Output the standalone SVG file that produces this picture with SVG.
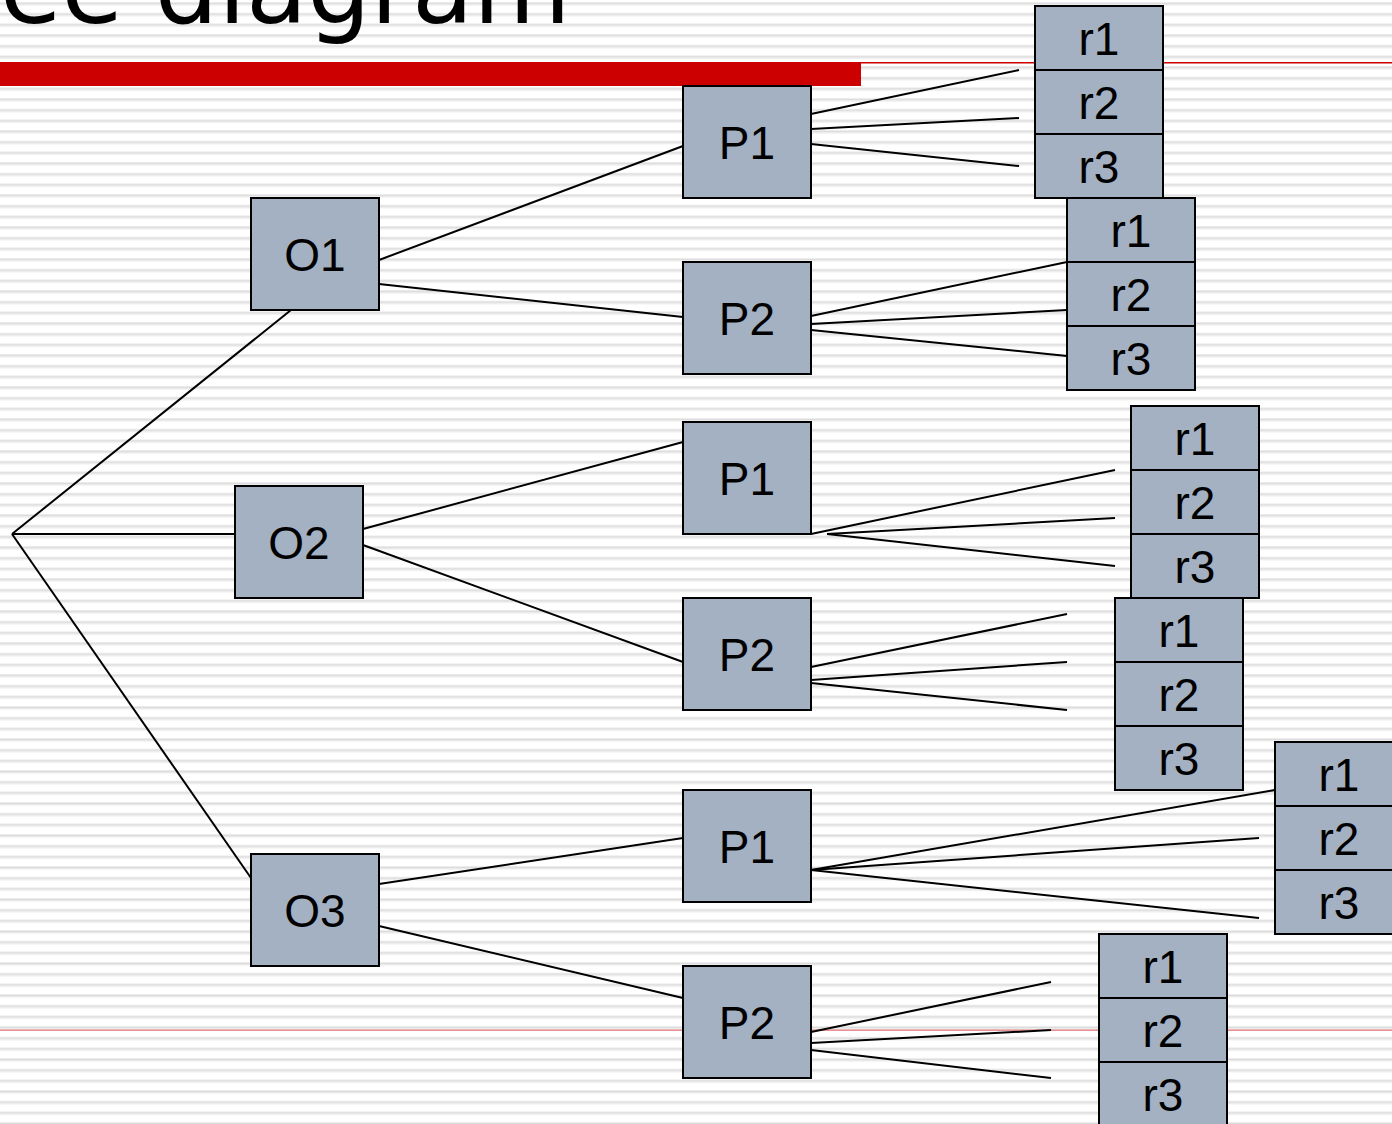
<svg xmlns="http://www.w3.org/2000/svg" width="1392" height="1124" viewBox="0 0 1392 1124">
<defs>
<pattern id="stripes" patternUnits="userSpaceOnUse" x="0" y="2" width="20" height="10.667">
<rect x="0" y="0" width="20" height="10.667" fill="#ffffff"/>
<rect x="0" y="0" width="20" height="1" fill="#ececec"/>
<rect x="0" y="1" width="20" height="1.5" fill="#dcdcdc"/>
<rect x="0" y="2.5" width="20" height="1" fill="#ececec"/>
</pattern>
</defs>
<style>
.box{fill:#a3b1c2;stroke:#000;stroke-width:2}
.lbl{font-family:"Liberation Sans",Arial,sans-serif;font-size:46px;fill:#000;text-anchor:middle}
.ln{stroke:#000;stroke-width:2;fill:none}
</style>
<rect x="0" y="0" width="1392" height="1124" fill="url(#stripes)"/>
<text x="0" y="23" font-family="DejaVu Sans,Verdana,sans-serif" font-size="100" fill="#000">ee diagram</text>
<rect x="0" y="62" width="1392" height="1.5" fill="#cc0000"/>
<rect x="0" y="62" width="861" height="24" fill="#cc0000"/>
<rect x="0" y="1029.5" width="1392" height="1.3" fill="#e07878"/>
<g id="connectors" class="ln">
<line x1="12" y1="534" x2="291" y2="310"/>
<line x1="12" y1="534" x2="235" y2="534"/>
<line x1="12" y1="534" x2="251" y2="878"/>
<line x1="379" y1="260" x2="683" y2="146"/>
<line x1="379" y1="284" x2="683" y2="317"/>
<line x1="363" y1="529" x2="683" y2="442"/>
<line x1="363" y1="545" x2="683" y2="662"/>
<line x1="379" y1="884" x2="683" y2="838"/>
<line x1="379" y1="926" x2="683" y2="998"/>
<line x1="811" y1="114" x2="1019" y2="70"/>
<line x1="811" y1="129" x2="1019" y2="118"/>
<line x1="811" y1="144" x2="1019" y2="166"/>
<line x1="811" y1="316" x2="1067" y2="262"/>
<line x1="811" y1="324" x2="1067" y2="310"/>
<line x1="811" y1="330" x2="1067" y2="356"/>
<line x1="811" y1="534" x2="1115" y2="470"/>
<line x1="827" y1="534" x2="1115" y2="518"/>
<line x1="827" y1="534" x2="1115" y2="566"/>
<line x1="811" y1="667" x2="1067" y2="614"/>
<line x1="811" y1="680" x2="1067" y2="662"/>
<line x1="811" y1="683" x2="1067" y2="710"/>
<line x1="811" y1="870" x2="1275" y2="790"/>
<line x1="811" y1="870" x2="1259" y2="838"/>
<line x1="811" y1="870" x2="1259" y2="918"/>
<line x1="811" y1="1032" x2="1051" y2="982"/>
<line x1="811" y1="1043" x2="1051" y2="1030"/>
<line x1="811" y1="1050" x2="1051" y2="1078"/>
</g>
<g id="O1"><rect class="box" x="251" y="198" width="128" height="112"/><text class="lbl" x="315" y="271">O1</text></g>
<g id="O2"><rect class="box" x="235" y="486" width="128" height="112"/><text class="lbl" x="299" y="559">O2</text></g>
<g id="O3"><rect class="box" x="251" y="854" width="128" height="112"/><text class="lbl" x="315" y="927">O3</text></g>
<g id="P1a"><rect class="box" x="683" y="86" width="128" height="112"/><text class="lbl" x="747" y="159">P1</text></g>
<g id="P2a"><rect class="box" x="683" y="262" width="128" height="112"/><text class="lbl" x="747" y="335">P2</text></g>
<g id="P1b"><rect class="box" x="683" y="422" width="128" height="112"/><text class="lbl" x="747" y="495">P1</text></g>
<g id="P2b"><rect class="box" x="683" y="598" width="128" height="112"/><text class="lbl" x="747" y="671">P2</text></g>
<g id="P1c"><rect class="box" x="683" y="790" width="128" height="112"/><text class="lbl" x="747" y="863">P1</text></g>
<g id="P2c"><rect class="box" x="683" y="966" width="128" height="112"/><text class="lbl" x="747" y="1039">P2</text></g>
<g id="R1">
<rect class="box" x="1035" y="6" width="128" height="64"/><text class="lbl" x="1099" y="55">r1</text>
<rect class="box" x="1035" y="70" width="128" height="64"/><text class="lbl" x="1099" y="119">r2</text>
<rect class="box" x="1035" y="134" width="128" height="64"/><text class="lbl" x="1099" y="183">r3</text>
</g>
<g id="R2">
<rect class="box" x="1067" y="198" width="128" height="64"/><text class="lbl" x="1131" y="247">r1</text>
<rect class="box" x="1067" y="262" width="128" height="64"/><text class="lbl" x="1131" y="311">r2</text>
<rect class="box" x="1067" y="326" width="128" height="64"/><text class="lbl" x="1131" y="375">r3</text>
</g>
<g id="R3">
<rect class="box" x="1131" y="406" width="128" height="64"/><text class="lbl" x="1195" y="455">r1</text>
<rect class="box" x="1131" y="470" width="128" height="64"/><text class="lbl" x="1195" y="519">r2</text>
<rect class="box" x="1131" y="534" width="128" height="64"/><text class="lbl" x="1195" y="583">r3</text>
</g>
<g id="R4">
<rect class="box" x="1115" y="598" width="128" height="64"/><text class="lbl" x="1179" y="647">r1</text>
<rect class="box" x="1115" y="662" width="128" height="64"/><text class="lbl" x="1179" y="711">r2</text>
<rect class="box" x="1115" y="726" width="128" height="64"/><text class="lbl" x="1179" y="775">r3</text>
</g>
<g id="R5">
<rect class="box" x="1275" y="742" width="128" height="64"/><text class="lbl" x="1339" y="791">r1</text>
<rect class="box" x="1275" y="806" width="128" height="64"/><text class="lbl" x="1339" y="855">r2</text>
<rect class="box" x="1275" y="870" width="128" height="64"/><text class="lbl" x="1339" y="919">r3</text>
</g>
<g id="R6">
<rect class="box" x="1099" y="934" width="128" height="64"/><text class="lbl" x="1163" y="983">r1</text>
<rect class="box" x="1099" y="998" width="128" height="64"/><text class="lbl" x="1163" y="1047">r2</text>
<rect class="box" x="1099" y="1062" width="128" height="64"/><text class="lbl" x="1163" y="1111">r3</text>
</g>
</svg>
